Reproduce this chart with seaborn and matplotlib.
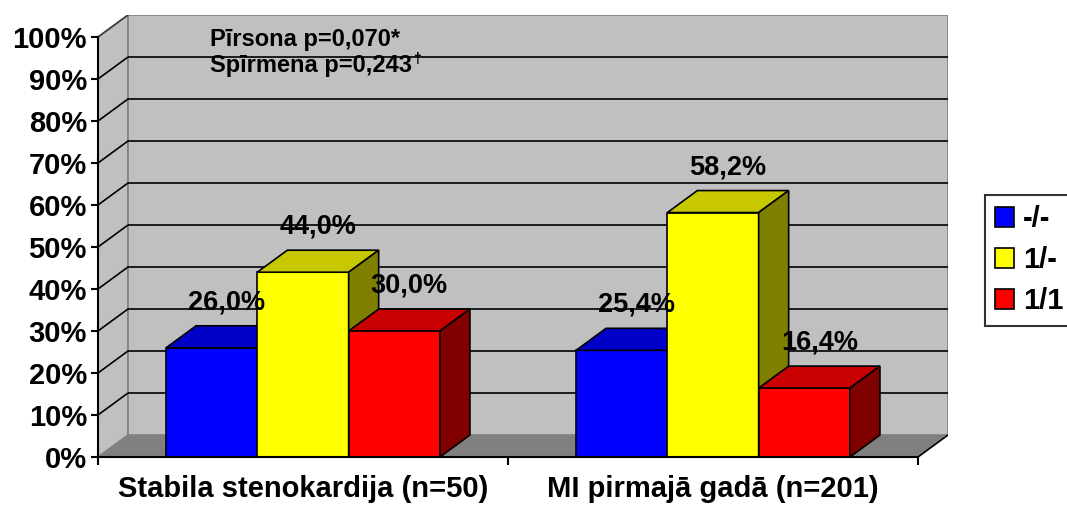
import numpy as np
import pandas as pd
import matplotlib.pyplot as plt
from matplotlib.patches import Polygon, Patch
import seaborn as sns

groups = ["Stabila stenokardija (n=50)", "MI pirmajā gadā (n=201)"]
genotypes = ["-/-", "1/-", "1/1"]
stabila = [26.0, 44.0, 30.0]
mi_gads = [25.4, 58.2, 16.4]

front_colors = ["#0000FF", "#FFFF00", "#FF0000"]
top_colors = ["#0000C8", "#C8C800", "#C80000"]
side_colors = ["#000080", "#808000", "#800000"]

df = pd.DataFrame({
    "grupa": [groups[0]] * 3 + [groups[1]] * 3,
    "genotips": genotypes * 2,
    "proc": [v / 100 for v in stabila + mi_gads],
})

sns.set_style("white")
plt.rcParams["font.family"] = ["Liberation Sans", "DejaVu Sans"]
plt.rcParams["font.weight"] = "bold"
plt.rcParams["text.color"] = "black"
plt.rcParams["xtick.color"] = "black"
plt.rcParams["ytick.color"] = "black"
plt.rcParams["axes.labelcolor"] = "black"

fig = plt.figure(figsize=(10.67, 5.05), dpi=100)
ax = fig.add_axes([98 / 1067, 48 / 505, 850 / 1067, 442 / 505])

sns.barplot(data=df, x="grupa", y="proc", hue="genotips", hue_order=genotypes,
            palette=front_colors, width=0.668, saturation=1, legend=False,
            edgecolor="black", linewidth=1.2, ax=ax)

# 3d depth (in data units)
dx = 30 / 410
dy = 22 / 420
x0, x1 = -0.5, 1.5

ax.set_xlim(x0, x1 + dx)
ax.set_ylim(0, 1 + dy)

# walls and floor
ax.add_patch(Polygon([(x0, 0), (x0 + dx, dy), (x0 + dx, 1 + dy), (x0, 1)],
                     closed=True, facecolor="#C0C0C0", edgecolor="#808080", lw=1.2, zorder=0.5))
ax.add_patch(Polygon([(x0 + dx, dy), (x1 + dx, dy), (x1 + dx, 1 + dy), (x0 + dx, 1 + dy)],
                     closed=True, facecolor="#C0C0C0", edgecolor="#808080", lw=1.2, zorder=0.5))
ax.add_patch(Polygon([(x0, 0), (x1, 0), (x1 + dx, dy), (x0 + dx, dy)],
                     closed=True, facecolor="#808080", edgecolor="none", zorder=0.8))
ax.plot([x1, x1 + dx], [0, dy], color="black", lw=1.2, zorder=0.9)

for v in np.arange(0.1, 0.95, 0.1):
    ax.plot([x0, x0 + dx, x1 + dx], [v, v + dy, v + dy], color="black", lw=1.2, zorder=1)
ax.plot([x0, x0 + dx], [1, 1 + dy], color="#404040", lw=1.2, zorder=1)

# bars with top and side faces
bars = sorted([p for p in ax.patches if not isinstance(p, Polygon)], key=lambda p: p.get_x())
values = stabila + mi_gads
for i, p in enumerate(bars):
    k = i % 3
    bx, bw, bh = p.get_x(), p.get_width(), p.get_height()
    z = 3 + i
    p.set_zorder(z)
    ax.add_patch(Polygon([(bx, bh), (bx + bw, bh), (bx + bw + dx, bh + dy), (bx + dx, bh + dy)],
                         closed=True, facecolor=top_colors[k], edgecolor="black", lw=1.2, zorder=z))
    ax.add_patch(Polygon([(bx + bw, 0), (bx + bw + dx, dy), (bx + bw + dx, bh + dy), (bx + bw, bh)],
                         closed=True, facecolor=side_colors[k], edgecolor="black", lw=1.2, zorder=z))
    lab = f"{values[i]:.1f}%".replace(".", ",")
    ax.text(bx + bw / 2 + dx / 2, bh + dy + 0.025, lab, ha="center", va="bottom",
            fontsize=19.5, fontweight="bold", zorder=20)

# axes
for s in ["top", "right"]:
    ax.spines[s].set_visible(False)
ax.spines["left"].set_bounds(0, 1)
ax.spines["bottom"].set_bounds(x0, x1)
ax.spines["left"].set_linewidth(1.5)
ax.spines["bottom"].set_linewidth(1.5)
ax.spines["left"].set_color("black")
ax.spines["bottom"].set_color("black")
ax.spines["left"].set_zorder(30)
ax.spines["bottom"].set_zorder(30)

yt = np.round(np.arange(0, 1.01, 0.1), 1)
ax.set_yticks(yt)
ax.set_yticklabels([f"{int(round(t * 100))}%" for t in yt], fontsize=21, fontweight="bold")
ax.tick_params(axis="y", direction="out", length=5, width=1.5, pad=3, left=True)

ax.set_xticks([x0, 0.5, x1])
ax.set_xticklabels([])
ax.set_xticks([0, 1], minor=True)
ax.set_xticklabels(groups, minor=True, fontsize=21, fontweight="bold")
ax.tick_params(axis="x", which="major", direction="out", length=6, width=1.5, bottom=True)
ax.tick_params(axis="x", which="minor", length=0, pad=13)
ax.set_xlabel("")
ax.set_ylabel("")

# statistics note
ax.text(-0.227, 0.993, "Pīrsona p=0,070*", fontsize=17, fontweight="bold",
        va="center", ha="left", zorder=20)
t2 = ax.text(-0.227, 0.933, "Spīrmena p=0,243", fontsize=17, fontweight="bold",
             va="center", ha="left", zorder=20)
ax.annotate("†", xy=(1, 1), xycoords=t2, xytext=(1, 1), textcoords="offset points",
            fontsize=10, va="top", ha="left", zorder=20)

handles = [Patch(facecolor=c, edgecolor="black", lw=1.2) for c in front_colors]
leg = fig.legend(handles, genotypes, loc="upper left", bbox_to_anchor=(985 / 1067, 1 - 195 / 505),
                 borderaxespad=0, frameon=True, fancybox=False,
                 handlelength=0.65, handleheight=0.65, handletextpad=0.3,
                 labelspacing=0.45, borderpad=0.35, prop={"weight": "bold", "size": 21})
leg.get_frame().set_edgecolor("black")
leg.get_frame().set_linewidth(1.5)

fig.savefig("out.png", dpi=100)
